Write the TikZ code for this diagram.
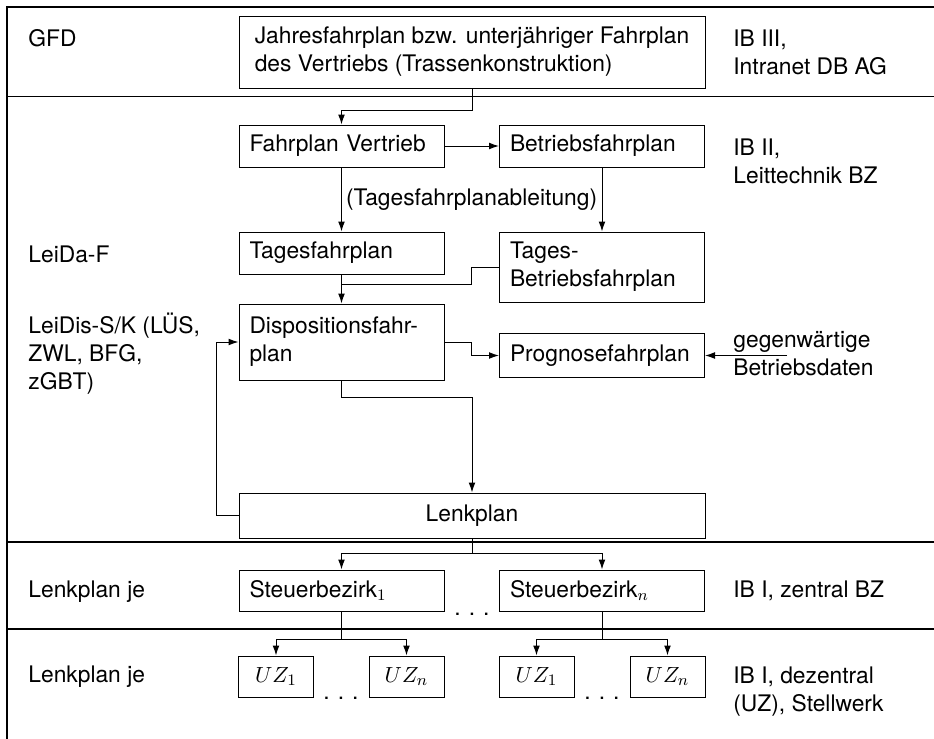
\documentclass[tikz,border=0pt]{standalone}
\usepackage{fontspec}
\setmainfont{TeX Gyre Heros}
\usetikzlibrary{arrows.meta}
\hyphenpenalty=10000\relax
\newcommand{\spreaddots}{.\kern4pt.\kern4pt.}
\begin{document}
\begin{tikzpicture}[x=0.5pt,y=-0.5pt,
  every node/.style={font=\fontsize{11.4}{14}\selectfont},
  frameline/.style={line width=0.8pt},
  box/.style={draw, line width=0.5pt, minimum height=21pt, text width=92pt, align=left, inner xsep=5.25pt, inner ysep=2pt},
  widebox/.style={draw, line width=0.5pt, minimum width=233pt, inner sep=2pt},
  uzbox/.style={draw, line width=0.5pt, minimum width=37.5pt, minimum height=20.5pt, inner sep=1pt},
  lbl/.style={anchor=west, align=left, inner sep=0pt},
  dotsnode/.style={anchor=base, inner sep=0pt},
  conn/.style={line width=0.5pt},
  arr/.style={conn, -{Latex[length=5pt,width=3.4pt]}},
]
\useasboundingbox (0,0) rectangle (934,739);
% frame and separators
\draw[frameline] (934,7) -- (7,7) -- (7,739);
\draw[frameline] (7,96.5) -- (934,96.5);
\draw[frameline] (7,542) -- (934,542);
\draw[frameline] (7,629) -- (934,629);

% boxes
\node[widebox, minimum height=36pt, align=left] (jahr) at (472,52) {Jahresfahrplan bzw. unterjähriger Fahrplan\\des Vertriebs (Trassenkonstruktion)};
\node[box] (fv) at (341.5,146) {Fahrplan Vertrieb};
\node[box] (bf) at (602,146) {Betriebsfahrplan};
\node[box] (tf) at (341.5,253) {Tagesfahrplan};
\node[box, minimum height=35pt] (tbf) at (602,267) {Tages-\\Betriebsfahrplan};
\node[box, minimum height=38pt] (disp) at (341.5,342) {Dispositionsfahr-\\plan};
\node[box, minimum height=22pt] (prog) at (602,355.5) {Prognosefahrplan};
\node[widebox, minimum height=22.5pt] (lenk) at (472,515.5) {Lenkplan};
\node[box, minimum height=20.5pt] (s1) at (341.5,590.5) {Steuerbezirk$_1$};
\node[box, minimum height=20.5pt] (sn) at (602,590.5) {Steuerbezirk$_n$};
\node[uzbox] (u11) at (276,676.5) {$UZ_1$};
\node[uzbox] (u1n) at (406.5,676.5) {$UZ_n$};
\node[uzbox] (u21) at (536.5,676.5) {$UZ_1$};
\node[uzbox] (u2n) at (667.5,676.5) {$UZ_n$};

% dots
\node[dotsnode] (d1) at (472,615.5) {\spreaddots};
\node[dotsnode] (d2) at (341,699.5) {\spreaddots};
\node[dotsnode] (d3) at (602,699.5) {\spreaddots};

% side labels
\node[lbl] (gfd) at (28,38) {GFD};
\node[lbl] (ib3) at (733,52.5) {IB III,\\Intranet DB AG};
\node[lbl] (ib2) at (733,161.5) {IB II,\\Leittechnik BZ};
\node[lbl] (leida) at (28,254) {LeiDa-F};
\node[lbl] (leidis) at (28,354) {LeiDis-S/K (LÜS,\\ZWL, BFG,\\zGBT)};
\node[lbl] (gegen) at (733,353.5) {gegenwärtige\\Betriebsdaten};
\node[lbl] (lj1) at (28,592) {Lenkplan je};
\node[lbl] (ib1z) at (733,591) {IB I, zentral BZ};
\node[lbl] (lj2) at (28,677) {Lenkplan je};
\node[lbl] (ib1d) at (733,692) {IB I, dezentral\\(UZ), Stellwerk};

% connectors
\draw[arr] (jahr.south) -- ++(0,22) -| (fv.north);
\draw[arr] (fv) -- (bf);
\draw[arr] (fv) -- node[anchor=west, inner xsep=2pt, inner ysep=0pt] (lab) {(Tagesfahrplanableitung)} (tf);
\draw[arr] (bf) -- (tbf);
\draw[arr] (tf) -- (disp);
\coordinate (tj) at (341.5,284);
\draw[conn] (tbf.west) -- ++(-28,0) |- (tj);
\draw[arr] (disp.east) -- ++(27,0) |- (prog.west);
\draw[arr] (disp.south) -- ++(0,17) -| (lenk.north);
\draw[arr] (lenk.west) -- ++(-22,0) |- (disp.west);
\coordinate (gb) at (787,355.5);
\draw[arr] (gb) -- (prog.east);

\coordinate (lj) at (472,553);
\draw[conn] (lenk.south) -- (lj);
\draw[arr] (lj) -| (s1.north);
\draw[arr] (lj) -| (sn.north);
\coordinate (sj1) at (341.5,639);
\draw[conn] (s1.south) -- (sj1);
\draw[arr] (sj1) -| (u11.north);
\draw[arr] (sj1) -| (u1n.north);
\coordinate (sj2) at (602,639);
\draw[conn] (sn.south) -- (sj2);
\draw[arr] (sj2) -| (u21.north);
\draw[arr] (sj2) -| (u2n.north);
\end{tikzpicture}
\end{document}
